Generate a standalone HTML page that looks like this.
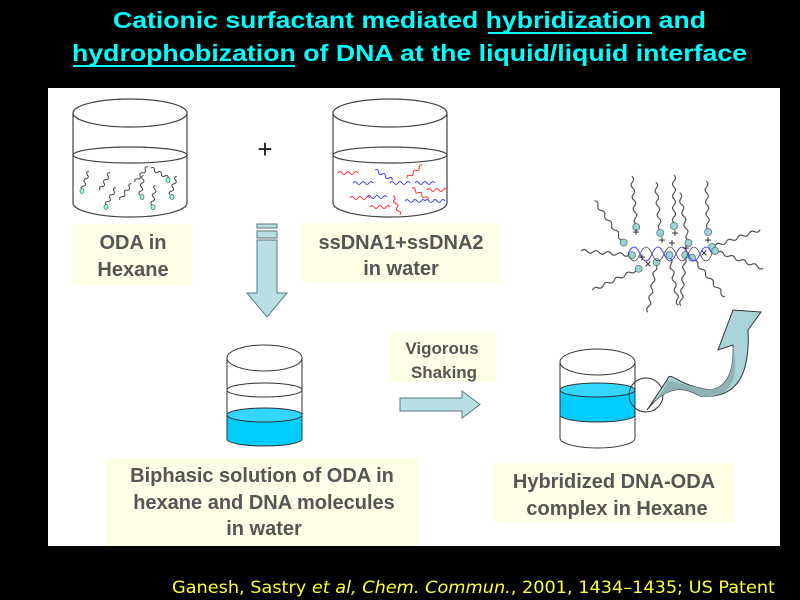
<!DOCTYPE html>
<html><head><meta charset="utf-8"><style>
html,body{margin:0;padding:0;background:#000;width:800px;height:600px;overflow:hidden}
svg{display:block}
</style></head><body>
<svg width="800" height="600" viewBox="0 0 800 600" xmlns="http://www.w3.org/2000/svg" font-family="Liberation Sans, Arial, sans-serif">
<defs>
<path id="wv" d="M0 0 q2 -3 4 0 t4 0 t4 0 t4 0 t4 0" fill="none"/>
<path id="ch" d="M0 0 q3 -3 6 0 t6 0 t6 0 t6 0 t6 0 t6 0 t6 0 t6 0" fill="none" stroke="#555" stroke-width="1.2"/>
<g id="lip"><use href="#ch"/><circle cx="-3" cy="0" r="3.5" fill="#9fd3d3" stroke="#577" stroke-width="0.8"/></g>
</defs>
<rect width="800" height="600" fill="#000"/>
<g fill="#00ffff" font-weight="bold" font-size="23">
<text x="113" y="28" textLength="593" lengthAdjust="spacingAndGlyphs">Cationic surfactant mediated hybridization and</text>
<text x="72" y="61" textLength="675" lengthAdjust="spacingAndGlyphs">hydrophobization of DNA at the liquid/liquid interface</text>
</g>
<rect x="488" y="32" width="164" height="2" fill="#00ffff"/>
<rect x="73" y="65" width="222" height="2" fill="#00ffff"/>
<rect x="48" y="88" width="732" height="458" fill="#fff"/>

<!-- beaker 1 -->
<g fill="none" stroke="#444" stroke-width="1.2">
<ellipse cx="130" cy="113" rx="57" ry="14"/>
<path d="M73 113 V203 A57 14 0 0 0 187 203 V113"/>
<ellipse cx="130" cy="155" rx="57" ry="8"/>
</g>
<g stroke="#444" stroke-width="1">
<use href="#wv" transform="translate(82,190) rotate(-70)"/>
<use href="#wv" transform="translate(100,190) rotate(-60)"/>
<use href="#wv" transform="translate(106,205) rotate(-60)"/>
<use href="#wv" transform="translate(120,200) rotate(-55)"/>
<use href="#wv" transform="translate(140,195) rotate(-80)"/>
<use href="#wv" transform="translate(152,205) rotate(-80)"/>
<use href="#wv" transform="translate(151,168) rotate(30)"/>
<use href="#wv" transform="translate(170,195) rotate(-70)"/>
<use href="#wv" transform="translate(135,182) rotate(-50)"/>
</g>
<g fill="#9fc" stroke="#477" stroke-width="0.8">
<ellipse cx="82" cy="191" rx="2" ry="2.5"/><ellipse cx="106" cy="207" rx="2" ry="2.5"/><ellipse cx="142" cy="197" rx="2" ry="2.5"/><ellipse cx="153" cy="207" rx="2" ry="2.5"/><ellipse cx="168" cy="180" rx="2" ry="2.5"/><ellipse cx="172" cy="197" rx="2" ry="2.5"/>
</g>
<rect x="73" y="224" width="120" height="61" fill="#ffffe8"/>
<g font-weight="bold" font-size="20" fill="#555" text-anchor="middle">
<text x="133" y="249">ODA in</text><text x="133" y="276">Hexane</text>
</g>
<text x="265" y="158" font-size="26" text-anchor="middle" fill="#222">+</text>

<!-- beaker 2 -->
<g fill="none" stroke="#444" stroke-width="1.2">
<ellipse cx="390" cy="113" rx="57" ry="14"/>
<path d="M333 113 V203 A57 14 0 0 0 447 203 V113"/>
<ellipse cx="390" cy="155" rx="57" ry="8"/>
</g>
<g stroke="#f33" stroke-width="1">
<use href="#wv" transform="translate(338,173)"/><use href="#wv" transform="translate(407,178) rotate(-40)"/><use href="#wv" transform="translate(427,190)"/><use href="#wv" transform="translate(350,198)"/><use href="#wv" transform="translate(370,207)"/><use href="#wv" transform="translate(393,196) rotate(70)"/><use href="#wv" transform="translate(412,188) rotate(35)"/>
</g>
<g stroke="#44f" stroke-width="1">
<use href="#wv" transform="translate(353,183)"/><use href="#wv" transform="translate(375,170) rotate(30)"/><use href="#wv" transform="translate(390,183)"/><use href="#wv" transform="translate(415,183)"/><use href="#wv" transform="translate(367,197)"/><use href="#wv" transform="translate(405,201)"/><use href="#wv" transform="translate(425,201)"/>
</g>
<rect x="302" y="223" width="198" height="60" fill="#ffffe8"/>
<g font-weight="bold" font-size="20" fill="#555" text-anchor="middle">
<text x="401" y="249">ssDNA1+ssDNA2</text><text x="401" y="275">in water</text>
</g>

<!-- down arrow -->
<g fill="#b9dfe2" stroke="#5a7a7e" stroke-width="1">
<rect x="257" y="224" width="20" height="4"/>
<rect x="257" y="231" width="20" height="7"/>
<path d="M257 240 H277 V293 H287 L267 317 L247 293 H257 Z"/>
</g>

<!-- beaker 3 -->
<path d="M227 415 V439 A37.5 7 0 0 0 302 439 V415 Z" fill="#00ccff"/>
<ellipse cx="264.5" cy="415" rx="37.5" ry="7" fill="#33d6ff" stroke="#333" stroke-width="1"/>
<g fill="none" stroke="#333" stroke-width="1">
<ellipse cx="264.5" cy="358" rx="37.5" ry="13"/>
<ellipse cx="264.5" cy="390" rx="37.5" ry="7"/>
<path d="M227 358 V439 A37.5 7 0 0 0 302 439 V358"/>
</g>
<rect x="106" y="458" width="312" height="88" fill="#ffffe8"/>
<g font-weight="bold" font-size="20" fill="#555" text-anchor="middle">
<text x="262" y="482">Biphasic solution of ODA in</text>
<text x="264" y="509">hexane and DNA molecules</text>
<text x="264" y="535">in water</text>
</g>

<rect x="390" y="332" width="107" height="50" fill="#ffffe8"/>
<g font-weight="bold" font-size="17" fill="#555" text-anchor="middle">
<text x="442" y="354">Vigorous</text><text x="444" y="378">Shaking</text>
</g>
<path d="M400 398 H462 V391 L480 404.5 L462 418 V411 H400 Z" fill="#b9dfe2" stroke="#5a7a7e" stroke-width="1"/>

<!-- beaker 4 -->
<path d="M560 390 V415 A37.5 7 0 0 0 635 415 V390 Z" fill="#00ccff" stroke="#333"/>
<ellipse cx="597.5" cy="390" rx="37.5" ry="7" fill="#33d6ff" stroke="#333" stroke-width="1"/>
<g fill="none" stroke="#333" stroke-width="1">
<ellipse cx="597.5" cy="362" rx="37.5" ry="13"/>
<path d="M560 362 V438 A37.5 10 0 0 0 635 438 V362"/>
<circle cx="646" cy="395" r="17"/>
</g>
<path d="M647 410 C670 380 690 390 700 396 C740 400 750 370 748 330 L761 312 L733 310 L718 350 L733 345 C735 380 720 395 700 388 C675 383 670 370 667 380 Z" fill="#a8d4d8" stroke="#333" stroke-width="1"/>
<path d="M647 410 C660 395 668 385 667 380 L700 388 C720 395 735 380 733 345 C740 380 730 400 700 396 C690 390 670 380 647 410Z" fill="#8fb2b5"/>
<rect x="494" y="463" width="240" height="60" fill="#ffffe8"/>
<g font-weight="bold" font-size="20" fill="#555" text-anchor="middle">
<text x="614" y="488">Hybridized DNA-ODA</text><text x="617" y="515">complex in Hexane</text>
</g>

<!-- cluster -->
<g>
<use href="#lip" transform="translate(636,224) rotate(-95)"/>
<use href="#lip" transform="translate(660,230) rotate(-95)"/>
<use href="#lip" transform="translate(674,223) rotate(-90)"/>
<use href="#lip" transform="translate(688,240) rotate(-100)"/>
<use href="#lip" transform="translate(708,229) rotate(-92)"/>
<use href="#lip" transform="translate(622,240) rotate(-125)"/>
<use href="#lip" transform="translate(629,255) rotate(185)"/>
<use href="#lip" transform="translate(636,270) rotate(155)"/>
<use href="#lip" transform="translate(656,265) rotate(100)"/>
<use href="#lip" transform="translate(670,258) rotate(80)"/>
<use href="#lip" transform="translate(685,258) rotate(95)"/>
<use href="#lip" transform="translate(694,260) rotate(50)"/>
<use href="#lip" transform="translate(715,246) rotate(-20)"/>
<use href="#lip" transform="translate(718,252) rotate(20)"/>
</g>
<path d="M628 254 q6 -14 12 0 t12 0 t12 0 t12 0 t12 0 t12 0 t12 0" fill="none" stroke="#44f" stroke-width="1"/>
<path d="M628 254 q6 14 12 0 t12 0 t12 0 t12 0 t12 0 t12 0 t12 0" fill="none" stroke="#444" stroke-width="0.8"/>
<g font-size="12" fill="#111" text-anchor="middle">
<text x="636" y="236">+</text><text x="662" y="244">+</text><text x="675" y="237">+</text><text x="672" y="247">+</text><text x="686" y="252">+</text><text x="708" y="244">+</text><text x="642" y="261">+</text><text x="648" y="268">×</text><text x="704" y="257">×</text>
</g>

<text x="172" y="593" font-family="DejaVu Sans Condensed, DejaVu Sans, sans-serif" font-size="17" fill="#ffff33" textLength="603" lengthAdjust="spacingAndGlyphs">Ganesh, Sastry <tspan font-style="italic">et al, Chem. Commun.</tspan>, 2001, 1434–1435; US Patent</text>
</svg>
</body></html>
